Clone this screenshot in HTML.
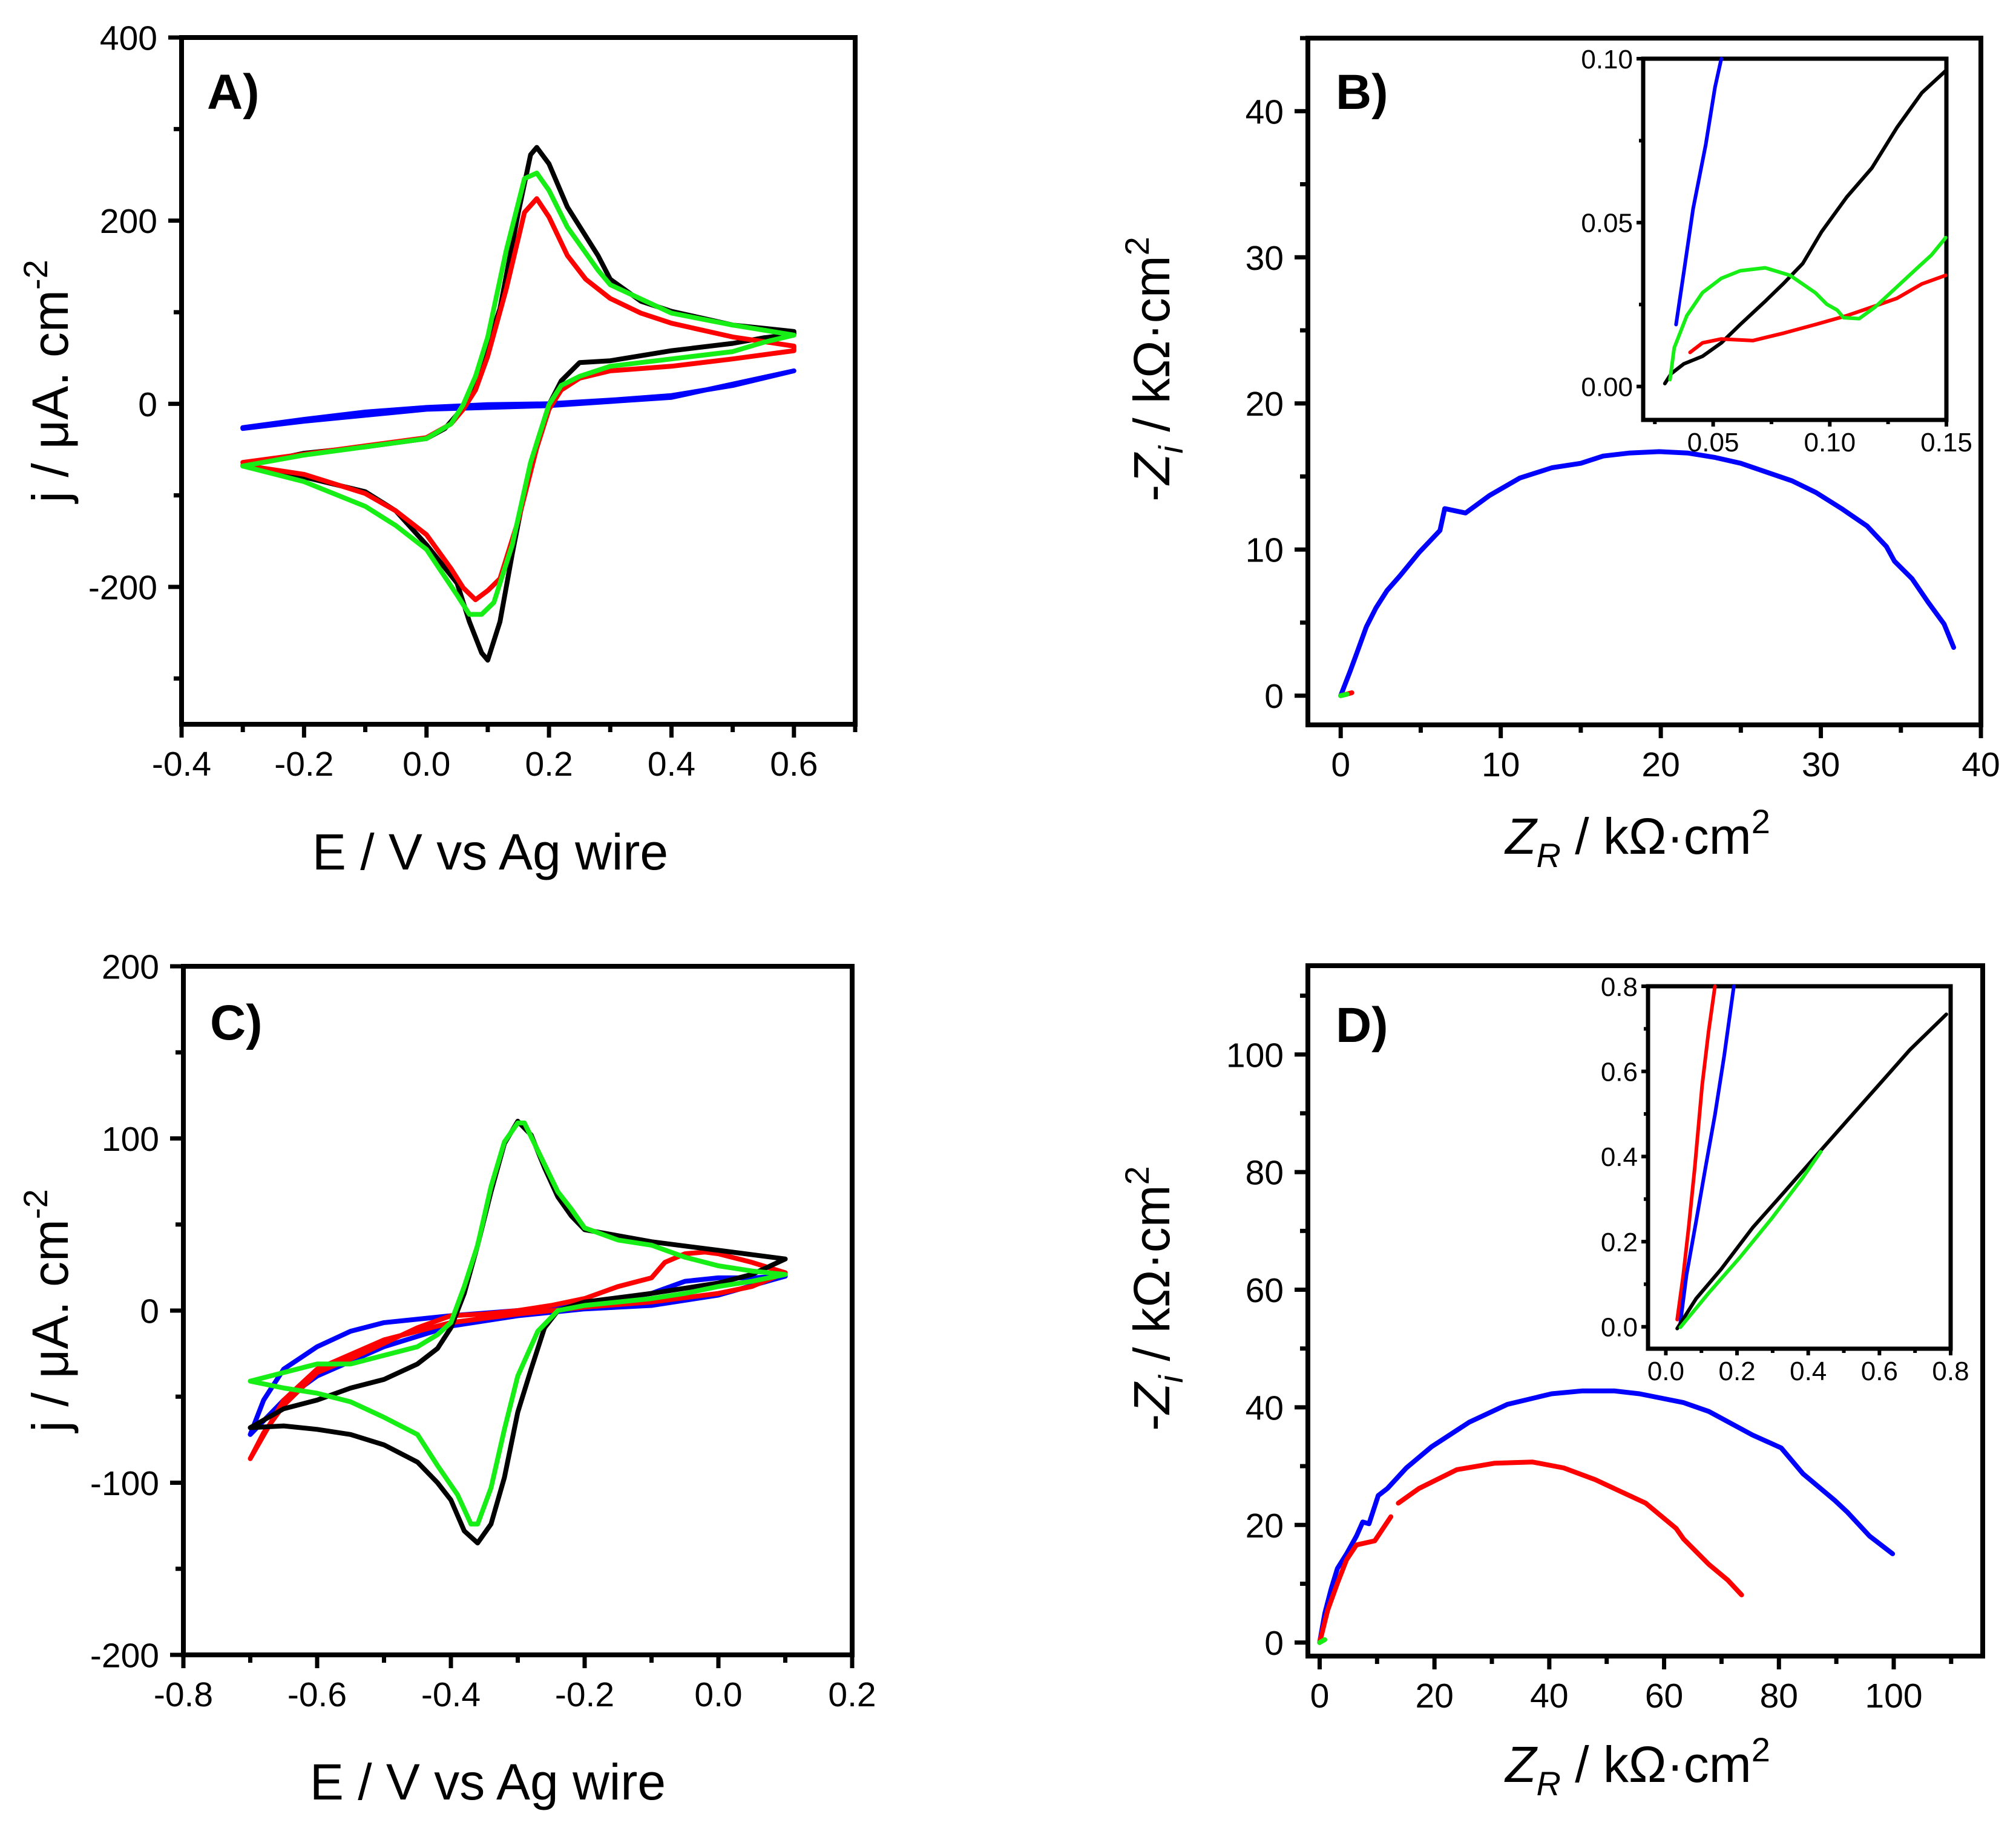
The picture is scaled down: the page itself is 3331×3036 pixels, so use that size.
<!DOCTYPE html>
<html><head><meta charset="utf-8"><title>CV and impedance panels A–D</title>
<style>html,body{margin:0;padding:0;background:#fff}svg{display:block}text{font-family:"Liberation Sans",Arial,sans-serif}</style>
</head><body>
<svg id="fig" xmlns="http://www.w3.org/2000/svg" width="3331" height="3036" viewBox="0 0 3331 3036">
<rect width="3331" height="3036" fill="#fff"/>
</svg>
<script>
// ===== Panel A data (E / V, j / uA cm-2) =====
const aBlackE=[-0.3,-0.2,-0.1,0.0,0.03,0.06,0.08,0.12,0.15,0.17,0.18,0.2,0.23,0.28,0.3,0.35,0.4,0.5,0.6,0.6,0.55,0.5,0.4,0.3,0.25,0.22,0.2,0.18,0.16,0.14,0.12,0.1,0.09,0.07,0.05,0.0,-0.05,-0.1,-0.2,-0.3];
const aBlackJ=[-68,-54,-47,-38,-27,-4,25,104,209,272,280,262,215,162,136,112,101,86,79,76,72,66,58,47,45,25,-1,-43,-96,-164,-238,-280,-272,-238,-196,-154,-117,-96,-80,-68];
const aRedE=[-0.3,-0.2,-0.1,0.0,0.04,0.06,0.08,0.1,0.13,0.16,0.18,0.2,0.23,0.26,0.3,0.35,0.4,0.5,0.6,0.6,0.5,0.4,0.3,0.25,0.22,0.2,0.18,0.15,0.12,0.1,0.08,0.06,0.04,0.0,-0.05,-0.1,-0.2,-0.3];
const aRedJ=[-64,-55,-46,-37,-22,-6,15,52,125,209,224,204,162,136,115,99,88,73,63,58,49,41,36,28,15,-6,-48,-127,-191,-204,-214,-201,-180,-143,-117,-98,-77,-67];
const aGreenE=[-0.3,-0.2,-0.1,0.0,0.04,0.06,0.08,0.1,0.13,0.16,0.18,0.2,0.23,0.28,0.3,0.4,0.5,0.6,0.6,0.55,0.5,0.4,0.3,0.25,0.22,0.2,0.17,0.14,0.11,0.09,0.07,0.05,0.0,-0.05,-0.1,-0.2,-0.3];
const aGreenJ=[-68,-56,-47,-38,-22,-1,30,73,167,246,252,233,193,146,130,99,86,75,75,67,57,49,41,30,20,-1,-64,-154,-217,-230,-230,-209,-159,-133,-112,-85,-68];
const aBlueE=[-0.3,-0.2,-0.1,0.0,0.1,0.2,0.3,0.4,0.5,0.6,0.6,0.4,0.2,0.0,-0.2,-0.3];
const aBlueJ=[-26,-17,-9,-4,-1,0,4,9,20,36,36,7,-2,-6,-19,-27];
const aXTicks=[-0.4,-0.2,0.0,0.2,0.4,0.6];
const aXLabels=["-0.4","-0.2","0.0","0.2","0.4","0.6"];
const aYTicks=[400,200,0,-200];
const aYLabels=["400","200","0","-200"];

// ===== Panel B data (kOhm cm2) =====
const bBlueZr=[0,0.6,1,1.6,2.2,2.9,3.7,4.9,6.2,6.5,7.8,9.3,11.2,13.2,15,16.4,18,19.9,21.7,23.4,25,26.6,28.2,29.7,31.3,32.9,34.1,34.6,35.7,36.7,37.7,38.3];
const bBlueZi=[0,1.7,2.9,4.7,6,7.2,8.2,9.8,11.3,12.8,12.5,13.7,14.9,15.6,15.9,16.4,16.6,16.7,16.6,16.3,15.9,15.3,14.7,13.9,12.8,11.6,10.2,9.2,8,6.4,4.9,3.3];
const bRedZr=[0,0.7];
const bRedZi=[0,0.2];
const bGreenZr=[0,0.4];
const bGreenZi=[0,0.1];
const bXTicks=[0,10,20,30,40];
const bXLabels=["0","10","20","30","40"];
const bYTicks=[0,10,20,30,40];
const bYLabels=["0","10","20","30","40"];
// inset B
const biBlueZr=[0.0341,0.0374,0.0414,0.0468,0.0508,0.0535];
const biBlueZi=[0.0189,0.0348,0.0542,0.0737,0.0913,0.1];
const biBlackZr=[0.0293,0.032,0.0374,0.0454,0.0535,0.0616,0.0723,0.0804,0.0884,0.0965,0.1073,0.118,0.1288,0.1395,0.1497];
const biBlackZi=[0.0009,0.0039,0.0069,0.0092,0.0133,0.0189,0.026,0.0316,0.0375,0.0472,0.0578,0.0666,0.079,0.0896,0.0963];
const biGreenZr=[0.0315,0.0333,0.0387,0.0454,0.0535,0.0616,0.0723,0.083,0.0938,0.0987,0.1032,0.1059,0.1126,0.1194,0.1288,0.1382,0.1436,0.1497];
const biGreenZi=[0.0021,0.0118,0.0216,0.0286,0.033,0.0353,0.0362,0.0339,0.0286,0.0251,0.0233,0.021,0.0207,0.0242,0.0304,0.0366,0.0401,0.0454];
const biRedZr=[0.0401,0.0454,0.0535,0.067,0.0804,0.0938,0.1073,0.118,0.1288,0.1395,0.1497];
const biRedZi=[0.0104,0.0133,0.0145,0.014,0.0163,0.0189,0.0216,0.0242,0.0269,0.0313,0.0339];
const biXTicks=[0.05,0.10,0.15];
const biXLabels=["0.05","0.10","0.15"];
const biYTicks=[0.00,0.05,0.10];
const biYLabels=["0.00","0.05","0.10"];

// ===== Panel C data =====
const cBlackE=[-0.7,-0.65,-0.6,-0.55,-0.5,-0.45,-0.42,-0.4,-0.38,-0.36,-0.34,-0.32,-0.3,-0.28,-0.26,-0.24,-0.22,-0.2,-0.1,0.0,0.1,0.1,0.05,0.0,-0.1,-0.2,-0.24,-0.26,-0.28,-0.3,-0.32,-0.34,-0.36,-0.38,-0.4,-0.42,-0.45,-0.5,-0.55,-0.6,-0.65,-0.7];
const cBlackJ=[-68,-57,-52,-45,-40,-31,-22,-10,10,38,69,97,110,102,83,66,55,47,40,35,30,30,21,16,10,5,0,-10,-34,-59,-97,-124,-135,-128,-110,-100,-88,-78,-72,-69,-67,-68];
const cGreenE=[-0.7,-0.65,-0.6,-0.55,-0.5,-0.45,-0.42,-0.4,-0.38,-0.36,-0.34,-0.32,-0.3,-0.29,-0.27,-0.24,-0.22,-0.2,-0.15,-0.1,-0.05,0.0,0.05,0.1,0.1,0.05,0.0,-0.05,-0.1,-0.2,-0.24,-0.27,-0.3,-0.32,-0.34,-0.36,-0.37,-0.39,-0.42,-0.45,-0.5,-0.55,-0.6,-0.65,-0.7];
const cGreenJ=[-41,-36,-31,-31,-26,-21,-14,-7,14,38,72,98,109,109,93,69,59,48,41,38,31,26,23,21,21,17,14,10,7,3,0,-12,-38,-69,-103,-124,-124,-107,-90,-72,-62,-53,-48,-45,-41];
const cRedE=[-0.7,-0.68,-0.65,-0.6,-0.55,-0.5,-0.45,-0.4,-0.35,-0.3,-0.25,-0.2,-0.15,-0.1,-0.08,-0.05,-0.02,0.0,0.05,0.1,0.1,0.05,0.0,-0.1,-0.2,-0.3,-0.4,-0.5,-0.6,-0.65,-0.7];
const cRedJ=[-86,-71,-55,-36,-28,-19,-10,-3,-2,0,3,7,14,19,28,33,34,33,28,22,22,14,10,5,2,-2,-7,-17,-34,-52,-86];
const cBlueE=[-0.7,-0.68,-0.65,-0.6,-0.55,-0.5,-0.4,-0.3,-0.2,-0.1,-0.05,0.0,0.05,0.1,0.1,0.0,-0.1,-0.2,-0.3,-0.4,-0.5,-0.6,-0.65,-0.7];
const cBlueJ=[-72,-52,-34,-21,-12,-7,-3,0,4,10,17,19,19,20,20,9,3,1,-3,-9,-21,-38,-52,-72];
const cXTicks=[-0.8,-0.6,-0.4,-0.2,0.0,0.2];
const cXLabels=["-0.8","-0.6","-0.4","-0.2","0.0","0.2"];
const cYTicks=[200,100,0,-100,-200];
const cYLabels=["200","100","0","-100","-200"];

// ===== Panel D data =====
const dBlueZr=[0,0.9,2,3.1,4.7,6.4,7.5,8.6,10.2,11.8,15.1,19.5,26.1,32.7,40.4,45.8,51.3,55.7,63.4,67.8,75.4,80.4,84.2,89.7,91.9,95.8,99.8];
const dBlueZi=[0,5,9.1,12.6,15.1,18.1,20.5,20.2,25,26.2,29.7,33.3,37.5,40.5,42.3,42.8,42.8,42.3,40.8,39.3,35.3,33.1,28.7,24.2,22.2,18.1,15.1];
const dRed1Zr=[0,1.4,3.1,4.7,6.4,9.6,12.4];
const dRed1Zi=[0,5.5,10.1,14.1,16.6,17.3,21.4];
const dRed2Zr=[13.7,17.3,23.9,30.5,37.1,42.5,48,52.4,56.8,62.1,63.4,67.8,71.1,73.5];
const dRed2Zi=[23.7,26.2,29.4,30.5,30.7,29.7,27.7,25.7,23.7,19.4,17.6,13.3,10.6,8.1];
const dGreenZr=[0,0.9];
const dGreenZi=[0,0.5];
const dXTicks=[0,20,40,60,80,100];
const dXLabels=["0","20","40","60","80","100"];
const dYTicks=[0,20,40,60,80,100];
const dYLabels=["0","20","40","60","80","100"];
// inset D
const diRedZr=[0.032,0.049,0.064,0.081,0.102,0.12,0.138];
const diRedZi=[0.017,0.121,0.233,0.372,0.567,0.693,0.8];
const diBlueZr=[0.041,0.058,0.085,0.111,0.138,0.164,0.191];
const diBlueZi=[0.01,0.121,0.247,0.372,0.498,0.637,0.8];
const diBlackZr=[0.032,0.085,0.155,0.244,0.332,0.42,0.509,0.597,0.686,0.788];
const diBlackZi=[-0.004,0.066,0.135,0.233,0.316,0.4,0.484,0.567,0.651,0.734];
const diGreenZr=[0.041,0.12,0.208,0.297,0.385,0.435];
const diGreenZi=[-0.001,0.079,0.163,0.254,0.351,0.411];
const diXTicks=[0.0,0.2,0.4,0.6,0.8];
const diXLabels=["0.0","0.2","0.4","0.6","0.8"];
const diYTicks=[0.0,0.2,0.4,0.6,0.8];
const diYLabels=["0.0","0.2","0.4","0.6","0.8"];

const NS="http://www.w3.org/2000/svg";
const svg=document.getElementById('fig');
const COL={black:"#000000",red:"#ff0000",green:"#16ee16",blue:"#0000ff"};

function el(tag,attrs,parent){const e=document.createElementNS(NS,tag);for(const k in attrs)e.setAttribute(k,attrs[k]);(parent||svg).appendChild(e);return e;}

function makeAxes(px0,px1,py0,py1,xmin,xmax,ymin,ymax){
  return {px0,px1,py0,py1,
    sx:v=>px0+(v-xmin)/(xmax-xmin)*(px1-px0),
    sy:v=>py1-(v-ymin)/(ymax-ymin)*(py1-py0)};
}

function drawFrame(ax,name,sw,o){
  const g=el('g',{});
  
  
  el('rect',{x:ax.px0,y:ax.py0,width:ax.px1-ax.px0,height:ax.py1-ax.py0,fill:o.fill||'none',stroke:'#000','stroke-width':sw},g);
  const xg=el('g',{},g);
  
  
  o.xT.forEach((v,i)=>{
    const x=ax.sx(v);
    el('line',{x1:x,x2:x,y1:ax.py1,y2:ax.py1+o.maj,stroke:'#000','stroke-width':o.tw},xg);
    const t=el('text',{x:x,y:ax.py1+o.xlo,'font-size':o.fs,'text-anchor':'middle',fill:'#000'},xg);
    t.textContent=o.xL[i];
    
    
  });
  o.xm.forEach(v=>{const x=ax.sx(v);el('line',{x1:x,x2:x,y1:ax.py1,y2:ax.py1+o.min,stroke:'#000','stroke-width':o.tw},xg);});
  const yg=el('g',{},g);
  
  
  o.yT.forEach((v,i)=>{
    const y=ax.sy(v);
    el('line',{x1:ax.px0,x2:ax.px0-o.maj,y1:y,y2:y,stroke:'#000','stroke-width':o.tw},yg);
    const t=el('text',{x:ax.px0-o.ylo,y:y+o.fs*0.36,'font-size':o.fs,'text-anchor':'end',fill:'#000'},yg);
    t.textContent=o.yL[i];
    
    
  });
  o.ym.forEach(v=>{const y=ax.sy(v);el('line',{x1:ax.px0,x2:ax.px0-o.min,y1:y,y2:y,stroke:'#000','stroke-width':o.tw},yg);});
}

function series(ax,xs,ys,color,name,w){
  const pts=xs.map((x,i)=>ax.sx(x).toFixed(1)+','+ax.sy(ys[i]).toFixed(1)).join(' ');
  const p=el('polyline',{points:pts,fill:'none',stroke:COL[color],'stroke-width':w||8,'stroke-linejoin':'round','stroke-linecap':'round'});
  
  
  return p;
}
function range(a,b,s){const r=[];for(let v=a;v<=b+1e-9;v+=s)r.push(+v.toFixed(6));return r;}

const mainOpt={fs:57,maj:22,min:13,tw:7,xlo:85,ylo:40};
const insOpt={fs:44,maj:11,min:7,tw:6,xlo:52,ylo:17};

function panelLabel(x,y,txt,name){
  const t=el('text',{x:x,y:y,'font-size':82,'font-weight':'bold',fill:'#000'});
  t.textContent=txt;
  
  
}
function yTitleCV(cx,cy,name){
  const t=el('text',{x:0,y:0,'font-size':84,'text-anchor':'middle',transform:`translate(${cx},${cy}) rotate(-90)`,fill:'#000'});
  t.innerHTML='j / μA. cm<tspan dy="-34" font-size="56">-2</tspan>';
  
  
}
function xTitleCV(cx,y,name){
  const t=el('text',{x:cx,y:y,'font-size':84,'text-anchor':'middle',fill:'#000'});
  t.textContent='E / V vs Ag wire';
  
  
}
function yTitleZ(cx,cy,name){
  const t=el('text',{x:0,y:0,'font-size':84,'text-anchor':'middle',transform:`translate(${cx},${cy}) rotate(-90)`,fill:'#000'});
  t.innerHTML='-<tspan font-style="italic">Z</tspan><tspan dy="22" font-size="56" font-style="italic">i</tspan><tspan dy="-22"> / kΩ·cm</tspan><tspan dy="-34" font-size="56">2</tspan>';
  
  
}
function xTitleZ(cx,y,name){
  const t=el('text',{x:cx,y:y,'font-size':84,'text-anchor':'middle',fill:'#000'});
  t.innerHTML='<tspan font-style="italic">Z</tspan><tspan dy="22" font-size="56" font-style="italic">R</tspan><tspan dy="-22"> / kΩ·cm</tspan><tspan dy="-34" font-size="56">2</tspan>';
  
  
}

// ---- Panel A ----
const axA=makeAxes(300,1413,62,1197,-0.4,0.7,-350,400);
drawFrame(axA,'panel-a',8,Object.assign({xT:aXTicks,xL:aXLabels,xm:range(-0.3,0.7,0.2),yT:aYTicks,yL:aYLabels,ym:[300,100,-100,-300]},mainOpt));
series(axA,aBlueE,aBlueJ,'blue','a-blue-curve');
series(axA,aBlackE,aBlackJ,'black','a-black-curve');
series(axA,aRedE,aRedJ,'red','a-red-curve');
series(axA,aGreenE,aGreenJ,'green','a-green-curve');
panelLabel(342,180,'A)','panel-label-a');
yTitleCV(112,630,'a-y-axis-title');
xTitleCV(810,1437,'a-x-axis-title');

// ---- Panel B ----
const axB=makeAxes(2161,3273,63,1198,-2.05,40,-2,45);
drawFrame(axB,'panel-b',8,Object.assign({xT:bXTicks,xL:bXLabels,xm:[5,15,25,35],yT:bYTicks,yL:bYLabels,ym:[5,15,25,35,45]},mainOpt));
series(axB,bBlueZr,bBlueZi,'blue','b-blue-curve');
series(axB,bRedZr,bRedZi,'red','b-red-curve');
series(axB,bGreenZr,bGreenZi,'green','b-green-curve');
panelLabel(2207,180,'B)','panel-label-b');
yTitleZ(1932,610,'b-y-axis-title');
xTitleZ(2706,1411,'b-x-axis-title');
const axBi=makeAxes(2715,3216,97,694,0.02,0.15,-0.0102,0.10);
drawFrame(axBi,'inset-b',7,Object.assign({fill:'#fff',xT:biXTicks,xL:biXLabels,xm:[0.025,0.075,0.125],yT:biYTicks,yL:biYLabels,ym:[0.025,0.075]},insOpt));
series(axBi,biBlueZr,biBlueZi,'blue','inset-b-blue-curve',6);
series(axBi,biBlackZr,biBlackZi,'black','inset-b-black-curve',6);
series(axBi,biRedZr,biRedZi,'red','inset-b-red-curve',6);
series(axBi,biGreenZr,biGreenZi,'green','inset-b-green-curve',6);

// ---- Panel C ----
const axC=makeAxes(303,1408,1597,2735,-0.8,0.2,-200,200);
drawFrame(axC,'panel-c',8,Object.assign({xT:cXTicks,xL:cXLabels,xm:range(-0.7,0.1,0.2),yT:cYTicks,yL:cYLabels,ym:[150,50,-50,-150]},mainOpt));
series(axC,cBlueE,cBlueJ,'blue','c-blue-curve');
series(axC,cRedE,cRedJ,'red','c-red-curve');
series(axC,cBlackE,cBlackJ,'black','c-black-curve');
series(axC,cGreenE,cGreenJ,'green','c-green-curve');
panelLabel(347,1718,'C)','panel-label-c');
yTitleCV(112,2166,'c-y-axis-title');
xTitleCV(806,2974,'c-x-axis-title');

// ---- Panel D ----
const axD=makeAxes(2161,3276,1596,2737,-2.05,115.5,-2.3,115.1);
drawFrame(axD,'panel-d',8,Object.assign({xT:dXTicks,xL:dXLabels,xm:[10,30,50,70,90,110],yT:dYTicks,yL:dYLabels,ym:[10,30,50,70,90,110]},mainOpt));
series(axD,dBlueZr,dBlueZi,'blue','d-blue-curve');
series(axD,dRed1Zr,dRed1Zi,'red','d-red-curve-low');
series(axD,dRed2Zr,dRed2Zi,'red','d-red-curve-high');
series(axD,dGreenZr,dGreenZi,'green','d-green-curve');
panelLabel(2207,1722,'D)','panel-label-d');
yTitleZ(1932,2146,'d-y-axis-title');
xTitleZ(2706,2945,'d-x-axis-title');
const axDi=makeAxes(2723,3223,1630,2229,-0.05,0.8,-0.0515,0.8);
drawFrame(axDi,'inset-d',7,Object.assign({fill:'#fff',xT:diXTicks,xL:diXLabels,xm:[0.1,0.3,0.5,0.7],yT:diYTicks,yL:diYLabels,ym:[0.1,0.3,0.5,0.7]},insOpt));
series(axDi,diRedZr,diRedZi,'red','inset-d-red-curve',6);
series(axDi,diBlueZr,diBlueZi,'blue','inset-d-blue-curve',6);
series(axDi,diBlackZr,diBlackZi,'black','inset-d-black-curve',6);
series(axDi,diGreenZr,diGreenZi,'green','inset-d-green-curve',6);
</script>
</body></html>
